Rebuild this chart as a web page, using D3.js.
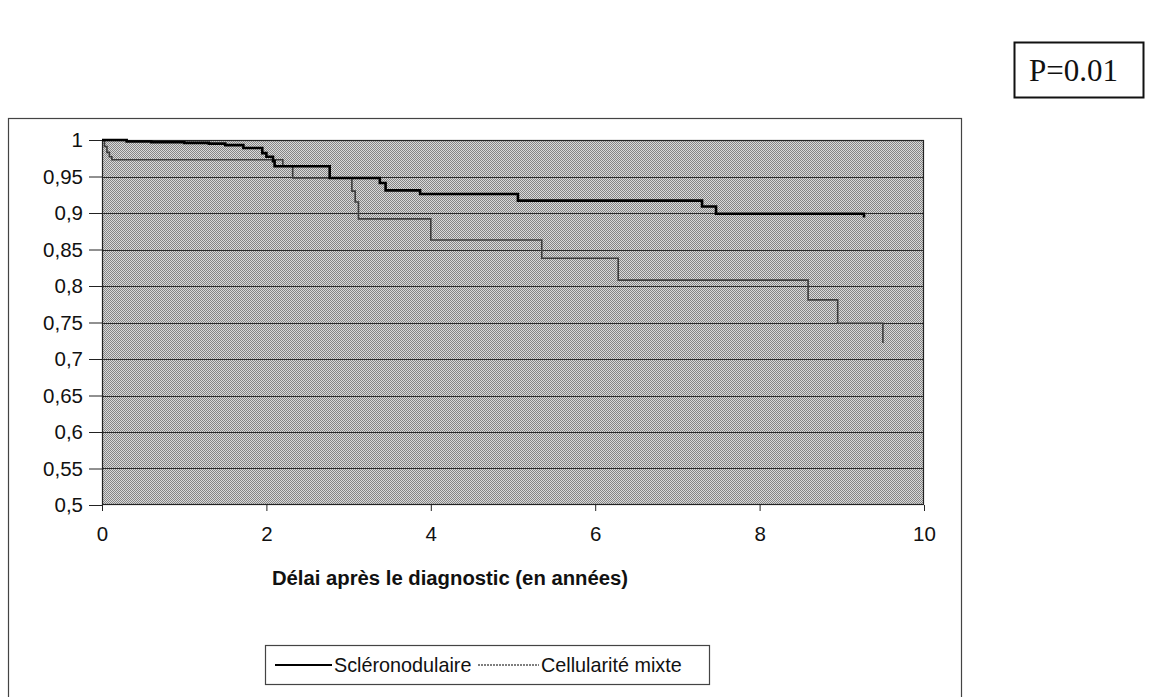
<!DOCTYPE html>
<html><head><meta charset="utf-8">
<script src="https://cdn.jsdelivr.net/npm/d3@7"></script>
<style>body{margin:0;background:#fff}svg{display:block}</style>
</head><body>
<svg id="c" width="1156" height="697"></svg>
<script>
// ---- data ----
const xTicks = [0, 2, 4, 6, 8, 10];
const yTicks = [0.5, 0.55, 0.6, 0.65, 0.7, 0.75, 0.8, 0.85, 0.9, 0.95, 1];
const seriesNames = ["Scléronodulaire", "Cellularité mixte"];
// Scléronodulaire (Kaplan-Meier steps): time (years), survival
const scleroTime = [0, 0.3, 0.6, 1.0, 1.3, 1.5, 1.72, 1.95, 2.0, 2.08, 2.1, 2.77, 3.38, 3.45, 3.87, 5.06, 7.3, 7.47, 9.27, 9.27];
const scleroSurv = [1, 0.998, 0.997, 0.996, 0.995, 0.993, 0.989, 0.982, 0.977, 0.971, 0.964, 0.948, 0.941, 0.931, 0.926, 0.917, 0.909, 0.899, 0.899, 0.894];
// Cellularité mixte
const mixteTime = [0, 0.03, 0.06, 0.09, 0.12, 2.2, 2.32, 3.04, 3.08, 3.12, 4.0, 5.35, 6.28, 8.59, 8.95, 9.5, 9.5];
const mixteSurv = [1, 0.991, 0.983, 0.977, 0.973, 0.964, 0.948, 0.93, 0.915, 0.892, 0.863, 0.838, 0.808, 0.781, 0.749, 0.749, 0.722];
const pText = "P=0.01";
const xTitle = "Délai après le diagnostic (en années)";

// ---- drawing ----
const svg = d3.select("#c");
svg.append("rect").attr("width", 1156).attr("height", 697).attr("fill", "#fff");

const defs = svg.append("defs");
const pat = defs.append("pattern").attr("id", "dots").attr("width", 2).attr("height", 2)
  .attr("patternUnits", "userSpaceOnUse");
pat.append("rect").attr("width", 2).attr("height", 2).attr("fill", "#dadada");
pat.append("rect").attr("x", 0).attr("y", 0).attr("width", 1).attr("height", 1).attr("fill", "#858585");
pat.append("rect").attr("x", 1).attr("y", 1).attr("width", 1).attr("height", 1).attr("fill", "#858585");

// outer chart frame
svg.append("rect").attr("x", 8.5).attr("y", 118.5).attr("width", 953).attr("height", 620)
  .attr("fill", "none").attr("stroke", "#444").attr("stroke-width", 1.2);

const L = 102, R = 924, T = 140, B = 505;
const x = d3.scaleLinear().domain([0, 10]).range([L, R]);
const y = d3.scaleLinear().domain([0.5, 1]).range([B, T]);

svg.append("rect").attr("x", L).attr("y", T).attr("width", R - L).attr("height", B - T)
  .attr("fill", "url(#dots)");

// gridlines
svg.append("g").selectAll("line").data(yTicks.filter(d => d > 0.5 && d < 1)).join("line")
  .attr("x1", L).attr("x2", R).attr("y1", d => Math.round(y(d)) + 0.5).attr("y2", d => Math.round(y(d)) + 0.5)
  .attr("stroke", "#2a2a2a").attr("stroke-width", 1);

svg.append("rect").attr("x", L + 0.5).attr("y", T + 0.5).attr("width", R - L - 1).attr("height", B - T - 1)
  .attr("fill", "none").attr("stroke", "#222").attr("stroke-width", 1.2);

// axes
const fmt = d => String(+d.toFixed(2)).replace(".", ",");
const yAxis = svg.append("g").attr("transform", `translate(${L},0)`)
  .call(d3.axisLeft(y).tickValues(yTicks).tickSize(13).tickPadding(6).tickFormat(fmt));
yAxis.select(".domain").remove();
yAxis.selectAll(".tick line").attr("stroke", "#222");
yAxis.selectAll("text").attr("font-family", "Liberation Sans, Arial, sans-serif")
  .attr("font-size", 20.5).attr("fill", "#111");

const xAxis = svg.append("g").attr("transform", `translate(0,${B})`)
  .call(d3.axisBottom(x).tickValues(xTicks).tickSize(6).tickPadding(15).tickFormat(d3.format("d")));
xAxis.select(".domain").remove();
xAxis.selectAll(".tick line").attr("stroke", "#222");
xAxis.selectAll("text").attr("font-family", "Liberation Sans, Arial, sans-serif")
  .attr("font-size", 20.5).attr("fill", "#111");

svg.append("text").attr("x", 450).attr("y", 585).attr("text-anchor", "middle")
  .attr("font-family", "Liberation Sans, Arial, sans-serif").attr("font-weight", "bold")
  .attr("font-size", 20.3).attr("fill", "#111").text(xTitle);

// curves
const line = d3.line().x(d => x(d[0])).y(d => y(d[1])).curve(d3.curveStepAfter);
const mixte = mixteTime.map((t, i) => [t, mixteSurv[i]]);
const sclero = scleroTime.map((t, i) => [t, scleroSurv[i]]);
svg.append("path").attr("d", line(mixte)).attr("fill", "none")
  .attr("stroke", "#3c3c3c").attr("stroke-width", 1.6);
svg.append("path").attr("d", line(sclero)).attr("fill", "none")
  .attr("stroke", "#000").attr("stroke-width", 2.6);

// legend
const lg = svg.append("g");
lg.append("rect").attr("x", 265.5).attr("y", 645.5).attr("width", 444).attr("height", 39)
  .attr("fill", "#fff").attr("stroke", "#444").attr("stroke-width", 1.2);
lg.append("line").attr("x1", 275).attr("x2", 332).attr("y1", 665).attr("y2", 665)
  .attr("stroke", "#000").attr("stroke-width", 2);
lg.append("text").attr("x", 334).attr("y", 672).text(seriesNames[0])
  .attr("font-family", "Liberation Sans, Arial, sans-serif").attr("font-size", 19.8).attr("fill", "#111");
lg.append("line").attr("x1", 478).attr("x2", 539).attr("y1", 665).attr("y2", 665)
  .attr("stroke", "#555").attr("stroke-width", 1.5).attr("stroke-dasharray", "2,1");
lg.append("text").attr("x", 541).attr("y", 672).text(seriesNames[1])
  .attr("font-family", "Liberation Sans, Arial, sans-serif").attr("font-size", 19.8).attr("fill", "#111");

// P box
svg.append("rect").attr("x", 1014.5).attr("y", 42.5).attr("width", 129).attr("height", 55)
  .attr("fill", "#fff").attr("stroke", "#111").attr("stroke-width", 2);
svg.append("text").attr("x", 1029).attr("y", 81).text(pText)
  .attr("font-family", "Liberation Serif, Times New Roman, serif").attr("font-size", 31).attr("fill", "#111");
</script>
</body></html>
